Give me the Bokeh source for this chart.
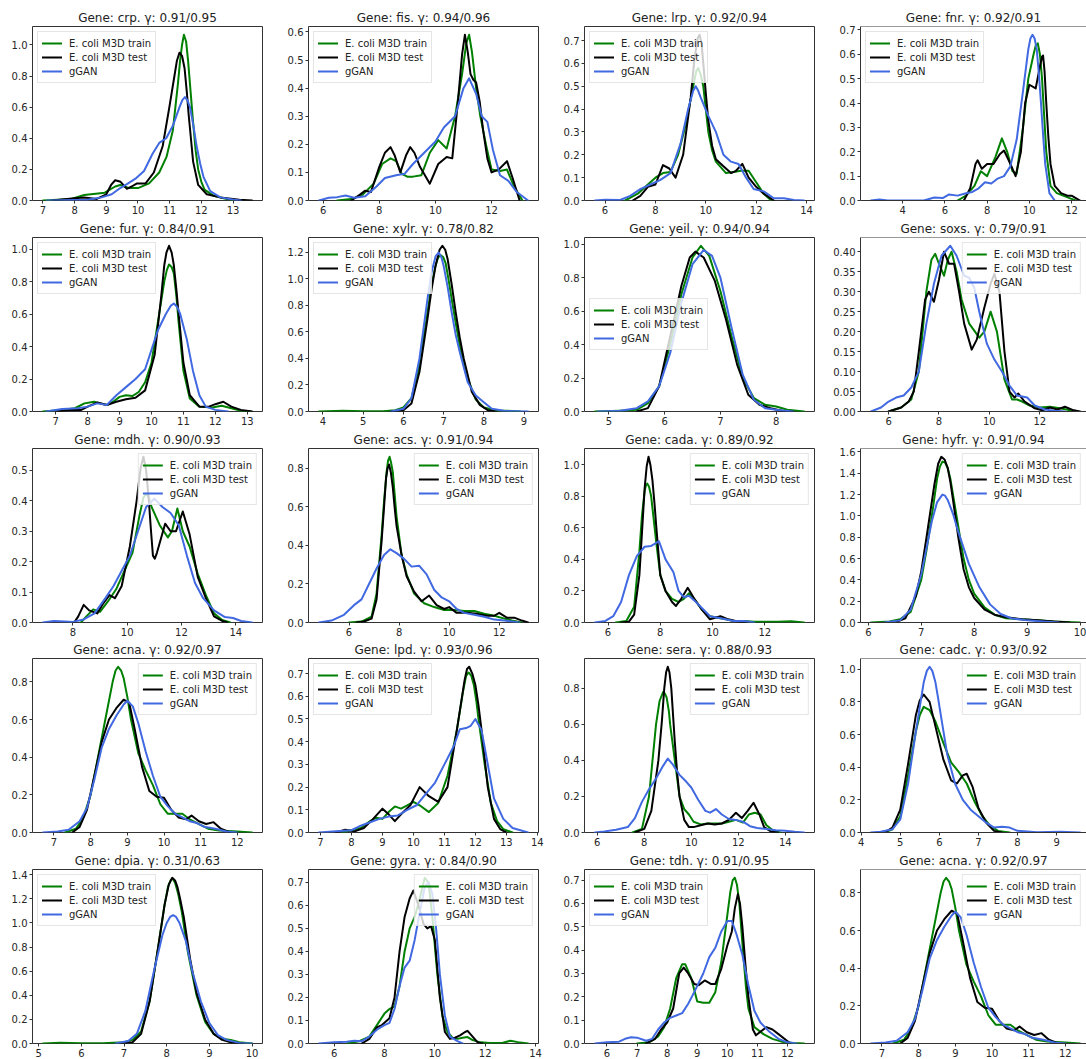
import math
from bokeh.plotting import figure
from bokeh.layouts import column, row
from bokeh.models import Range1d, FixedTicker, PrintfTickFormatter, Span
from bokeh.embed import file_html
from bokeh.resources import INLINE

# ---- series names and colours -------------------------------------------
series_names = ["E. coli M3D train", "E. coli M3D test", "gGAN"]
series_colors = ["green", "black", "royalblue"]

# ---- density curves, (expression, density) pairs ------------------------
crp_train = [(7.0, 0), (7.9, 0.01), (8.3, 0.035), (8.74, 0.045), (8.95, 0.05), (9.28, 0.09), (9.44, 0.10), (9.7, 0.08), (10.0, 0.08), (10.35, 0.11), (10.67, 0.18), (10.9, 0.28), (11.1, 0.45), (11.26, 0.75), (11.33, 0.9), (11.39, 1.0), (11.45, 1.065), (11.52, 1.02), (11.58, 0.9), (11.66, 0.7), (11.74, 0.5), (11.82, 0.32), (11.9, 0.2), (12.0, 0.12), (12.1, 0.07), (12.39, 0.03), (12.7, 0.015), (13.03, 0)]
crp_test = [(7.3, 0), (7.99, 0.015), (8.3, 0.02), (8.7, 0.01), (9.0, 0.04), (9.15, 0.1), (9.28, 0.13), (9.45, 0.12), (9.65, 0.075), (9.8, 0.09), (9.97, 0.11), (10.24, 0.11), (10.5, 0.18), (10.78, 0.35), (10.99, 0.6), (11.15, 0.8), (11.23, 0.9), (11.31, 0.95), (11.39, 0.93), (11.47, 0.85), (11.54, 0.7), (11.6, 0.55), (11.67, 0.4), (11.74, 0.25), (11.9, 0.1), (12.17, 0.04), (12.6, 0.02), (13.2, 0.005), (13.6, 0)]
crp_gan = [(7.13, 0), (8.4, 0.005), (8.85, 0.02), (9.17, 0.04), (9.44, 0.08), (9.65, 0.105), (9.92, 0.14), (10.19, 0.19), (10.46, 0.3), (10.67, 0.37), (10.89, 0.4), (11.1, 0.48), (11.31, 0.6), (11.4, 0.645), (11.48, 0.665), (11.56, 0.645), (11.64, 0.6), (11.75, 0.48), (11.85, 0.35), (11.96, 0.24), (12.07, 0.15), (12.28, 0.06), (12.6, 0.02), (13.03, 0.005), (13.25, 0)]

fis_train = [(6.5, 0), (7.0, 0.005), (7.4, 0.02), (7.8, 0.06), (8.1, 0.13), (8.4, 0.15), (8.6, 0.14), (8.8, 0.095), (9.0, 0.085), (9.2, 0.085), (9.5, 0.09), (9.8, 0.17), (10.1, 0.215), (10.4, 0.185), (10.7, 0.3), (10.95, 0.45), (11.1, 0.56), (11.2, 0.59), (11.3, 0.53), (11.45, 0.4), (11.6, 0.3), (11.8, 0.2), (12.0, 0.11), (12.3, 0.105), (12.55, 0.11), (12.8, 0.05), (13.1, 0)]
fis_test = [(7.0, 0), (7.3, 0.02), (7.5, 0.035), (7.7, 0.03), (8.0, 0.12), (8.2, 0.17), (8.4, 0.19), (8.55, 0.16), (8.75, 0.1), (8.95, 0.16), (9.1, 0.19), (9.25, 0.17), (9.45, 0.12), (9.8, 0.06), (10.1, 0.13), (10.4, 0.155), (10.6, 0.15), (10.8, 0.35), (10.95, 0.52), (11.05, 0.59), (11.15, 0.53), (11.25, 0.45), (11.35, 0.43), (11.45, 0.42), (11.58, 0.35), (11.7, 0.25), (11.85, 0.15), (12.0, 0.1), (12.25, 0.11), (12.55, 0.14), (12.75, 0.08), (13.0, 0)]
fis_gan = [(5.85, 0), (6.2, 0.01), (6.5, 0.012), (6.8, 0.018), (7.1, 0.01), (7.5, 0.015), (7.9, 0.05), (8.2, 0.08), (8.6, 0.09), (8.9, 0.095), (9.2, 0.13), (9.6, 0.17), (10.0, 0.21), (10.3, 0.26), (10.7, 0.3), (11.0, 0.4), (11.2, 0.435), (11.45, 0.38), (11.65, 0.3), (11.85, 0.28), (12.05, 0.18), (12.3, 0.09), (12.6, 0.07), (12.9, 0.03), (13.3, 0)]

lrp_train = [(6.8, 0), (7.3, 0.03), (7.6, 0.06), (8.0, 0.1), (8.3, 0.12), (8.6, 0.125), (8.9, 0.2), (9.2, 0.33), (9.5, 0.5), (9.62, 0.565), (9.7, 0.58), (9.8, 0.55), (9.9, 0.5), (10.0, 0.4), (10.1, 0.3), (10.25, 0.22), (10.4, 0.17), (10.8, 0.12), (11.1, 0.125), (11.4, 0.13), (11.7, 0.13), (12.0, 0.08), (12.3, 0.03), (12.6, 0)]
lrp_test = [(7.1, 0), (7.4, 0.02), (7.7, 0.06), (8.0, 0.07), (8.3, 0.155), (8.55, 0.14), (8.8, 0.1), (9.1, 0.2), (9.4, 0.45), (9.55, 0.62), (9.68, 0.71), (9.75, 0.725), (9.83, 0.69), (9.9, 0.6), (10.0, 0.47), (10.1, 0.35), (10.25, 0.24), (10.4, 0.18), (10.7, 0.15), (11.0, 0.12), (11.2, 0.13), (11.45, 0.16), (11.7, 0.1), (12.0, 0.06), (12.3, 0.03), (12.7, 0)]
lrp_gan = [(5.6, 0), (6.0, 0.003), (6.6, 0.002), (7.0, 0.02), (7.4, 0.05), (7.8, 0.07), (8.2, 0.09), (8.6, 0.12), (9.0, 0.25), (9.3, 0.4), (9.5, 0.48), (9.6, 0.5), (9.7, 0.48), (9.8, 0.45), (10.1, 0.37), (10.4, 0.3), (10.7, 0.2), (11.0, 0.17), (11.3, 0.16), (11.6, 0.1), (11.9, 0.05), (12.3, 0.04), (12.7, 0.01), (13.1, 0.01), (13.5, 0.002), (13.9, 0)]

fnr_train = [(6.6, 0), (7.0, 0.02), (7.4, 0.06), (7.7, 0.12), (8.0, 0.1), (8.4, 0.18), (8.7, 0.255), (8.95, 0.2), (9.2, 0.12), (9.4, 0.11), (9.7, 0.3), (9.95, 0.5), (10.2, 0.6), (10.3, 0.635), (10.4, 0.645), (10.5, 0.6), (10.6, 0.5), (10.7, 0.35), (10.8, 0.2), (11.0, 0.06), (11.3, 0.03), (11.6, 0.02), (11.9, 0.01), (12.2, 0)]
fnr_test = [(6.9, 0), (7.2, 0.05), (7.45, 0.15), (7.55, 0.165), (7.75, 0.13), (8.0, 0.15), (8.3, 0.15), (8.6, 0.19), (8.8, 0.205), (9.05, 0.16), (9.35, 0.1), (9.6, 0.2), (9.8, 0.4), (10.0, 0.475), (10.3, 0.46), (10.5, 0.55), (10.6, 0.59), (10.65, 0.595), (10.72, 0.53), (10.8, 0.4), (10.9, 0.26), (11.0, 0.15), (11.2, 0.06), (11.5, 0.03), (11.8, 0.02), (12.0, 0.02), (12.2, 0.01), (12.4, 0)]
fnr_gan = [(2.5, 0), (2.9, 0.004), (3.3, 0), (5.0, 0), (5.5, 0.012), (5.9, 0.01), (6.2, 0.025), (6.6, 0.02), (7.0, 0.03), (7.3, 0.035), (7.6, 0.05), (7.9, 0.075), (8.2, 0.07), (8.5, 0.09), (8.8, 0.1), (9.1, 0.14), (9.4, 0.25), (9.7, 0.45), (9.95, 0.62), (10.05, 0.665), (10.15, 0.68), (10.25, 0.665), (10.35, 0.62), (10.45, 0.52), (10.55, 0.4), (10.65, 0.27), (10.75, 0.15), (10.95, 0.03), (11.2, 0)]

fur_train = [(6.6, 0), (7.2, 0.01), (7.6, 0.02), (7.9, 0.05), (8.2, 0.06), (8.4, 0.05), (8.6, 0.04), (8.8, 0.06), (9.0, 0.09), (9.2, 0.1), (9.4, 0.095), (9.6, 0.12), (9.8, 0.18), (10.0, 0.3), (10.2, 0.55), (10.4, 0.8), (10.48, 0.87), (10.55, 0.905), (10.63, 0.89), (10.7, 0.85), (10.78, 0.71), (10.85, 0.55), (10.93, 0.39), (11.0, 0.25), (11.2, 0.08), (11.5, 0.03), (11.9, 0.025), (12.2, 0.035), (12.5, 0.02), (12.8, 0.005), (13.1, 0)]
fur_test = [(7.0, 0), (7.5, 0.01), (7.8, 0.01), (8.0, 0.03), (8.3, 0.055), (8.6, 0.04), (8.9, 0.06), (9.2, 0.075), (9.5, 0.085), (9.8, 0.13), (10.1, 0.35), (10.3, 0.7), (10.4, 0.9), (10.47, 0.98), (10.55, 1.02), (10.63, 0.98), (10.7, 0.9), (10.78, 0.75), (10.85, 0.6), (10.93, 0.44), (11.0, 0.3), (11.2, 0.1), (11.5, 0.03), (11.8, 0.03), (12.0, 0.045), (12.25, 0.06), (12.5, 0.03), (12.8, 0.01), (13.15, 0)]
fur_gan = [(6.7, 0), (7.2, 0.015), (7.7, 0.02), (8.0, 0.03), (8.3, 0.05), (8.6, 0.04), (8.9, 0.1), (9.2, 0.15), (9.5, 0.2), (9.8, 0.26), (10.0, 0.38), (10.2, 0.5), (10.45, 0.6), (10.6, 0.65), (10.7, 0.665), (10.8, 0.645), (10.9, 0.6), (11.1, 0.45), (11.3, 0.25), (11.5, 0.1), (11.7, 0.03), (12.0, 0.01), (12.4, 0)]

xylr_train = [(3.9, 0), (4.5, 0.005), (5.0, 0.002), (5.5, 0.002), (5.8, 0.01), (6.0, 0.03), (6.2, 0.1), (6.4, 0.35), (6.6, 0.75), (6.7, 0.95), (6.8, 1.1), (6.86, 1.16), (6.92, 1.18), (6.99, 1.165), (7.05, 1.12), (7.12, 1.0), (7.2, 0.85), (7.3, 0.67), (7.4, 0.5), (7.6, 0.25), (7.8, 0.09), (8.0, 0.03), (8.3, 0.008), (8.6, 0.005), (8.9, 0)]
xylr_test = [(5.7, 0), (6.0, 0.01), (6.2, 0.06), (6.4, 0.3), (6.6, 0.7), (6.7, 0.92), (6.8, 1.1), (6.9, 1.22), (6.97, 1.25), (7.04, 1.22), (7.1, 1.15), (7.2, 0.96), (7.3, 0.75), (7.4, 0.56), (7.5, 0.4), (7.7, 0.15), (7.9, 0.05), (8.1, 0.01), (8.3, 0)]
xylr_gan = [(5.7, 0), (6.0, 0.02), (6.2, 0.1), (6.4, 0.4), (6.6, 0.85), (6.7, 1.05), (6.8, 1.17), (6.88, 1.2), (6.95, 1.16), (7.0, 1.1), (7.1, 0.94), (7.2, 0.75), (7.3, 0.58), (7.4, 0.45), (7.6, 0.22), (7.8, 0.12), (8.0, 0.07), (8.2, 0.02), (8.5, 0.005), (9.1, 0)]

yeil_train = [(4.75, 0), (5.2, 0.005), (5.5, 0.01), (5.7, 0.05), (5.9, 0.15), (6.1, 0.4), (6.3, 0.7), (6.5, 0.92), (6.65, 0.99), (6.8, 0.93), (7.0, 0.72), (7.2, 0.45), (7.4, 0.2), (7.6, 0.08), (7.8, 0.04), (8.0, 0.03), (8.2, 0.01), (8.5, 0)]
yeil_test = [(5.5, 0), (5.7, 0.02), (5.9, 0.15), (6.1, 0.45), (6.3, 0.75), (6.45, 0.92), (6.55, 0.955), (6.7, 0.92), (6.9, 0.78), (7.1, 0.55), (7.3, 0.28), (7.5, 0.1), (7.7, 0.04), (7.9, 0.02), (8.1, 0.005), (8.3, 0)]
yeil_gan = [(4.8, 0), (5.2, 0.005), (5.5, 0.02), (5.7, 0.06), (5.9, 0.15), (6.1, 0.35), (6.3, 0.65), (6.5, 0.88), (6.7, 0.965), (6.85, 0.93), (7.0, 0.8), (7.2, 0.5), (7.4, 0.22), (7.6, 0.07), (7.8, 0.02), (8.0, 0.01), (8.3, 0)]

soxs_train = [(6.0, 0), (6.5, 0.01), (6.9, 0.03), (7.2, 0.1), (7.5, 0.3), (7.7, 0.38), (7.85, 0.395), (8.0, 0.37), (8.2, 0.34), (8.35, 0.38), (8.5, 0.4), (8.7, 0.35), (8.9, 0.28), (9.2, 0.22), (9.6, 0.185), (9.8, 0.2), (10.05, 0.25), (10.3, 0.2), (10.6, 0.08), (10.9, 0.03), (11.1, 0.03), (11.3, 0.025), (11.6, 0.015), (12.0, 0.01), (12.4, 0.012), (12.8, 0.008), (13.2, 0.003), (13.5, 0)]
soxs_test = [(6.0, 0), (6.5, 0.01), (6.8, 0.025), (7.0, 0.05), (7.2, 0.15), (7.45, 0.28), (7.6, 0.3), (7.8, 0.275), (8.0, 0.33), (8.2, 0.4), (8.4, 0.37), (8.6, 0.37), (8.8, 0.3), (9.0, 0.22), (9.3, 0.155), (9.5, 0.18), (9.8, 0.26), (10.05, 0.32), (10.2, 0.345), (10.4, 0.3), (10.6, 0.15), (10.8, 0.05), (11.0, 0.035), (11.15, 0.045), (11.4, 0.025), (11.8, 0.008), (12.1, 0.003), (12.4, 0.01), (12.7, 0.005), (13.0, 0.012), (13.3, 0.004), (13.6, 0)]
soxs_gan = [(5.3, 0), (5.7, 0.01), (6.0, 0.025), (6.3, 0.035), (6.6, 0.04), (6.9, 0.06), (7.2, 0.1), (7.5, 0.22), (7.8, 0.32), (8.1, 0.39), (8.45, 0.415), (8.7, 0.39), (9.0, 0.34), (9.2, 0.335), (9.4, 0.31), (9.6, 0.25), (9.9, 0.17), (10.2, 0.13), (10.5, 0.1), (10.8, 0.065), (11.1, 0.04), (11.5, 0.035), (11.8, 0.015), (12.2, 0.005), (12.6, 0.002), (13.0, 0)]

mdh_train = [(8.3, 0), (8.5, 0.02), (8.75, 0.043), (9.0, 0.035), (9.3, 0.07), (9.6, 0.11), (9.9, 0.17), (10.2, 0.23), (10.45, 0.35), (10.6, 0.41), (10.7, 0.425), (10.8, 0.41), (10.9, 0.38), (11.2, 0.32), (11.5, 0.28), (11.65, 0.3), (11.85, 0.375), (12.05, 0.3), (12.3, 0.25), (12.6, 0.16), (12.9, 0.09), (13.2, 0.03), (13.5, 0.008), (13.8, 0)]
mdh_test = [(8.05, 0), (8.2, 0.02), (8.4, 0.058), (8.6, 0.04), (8.9, 0.03), (9.1, 0.06), (9.35, 0.09), (9.55, 0.08), (9.8, 0.12), (10.1, 0.25), (10.35, 0.4), (10.5, 0.51), (10.6, 0.545), (10.7, 0.5), (10.8, 0.4), (10.88, 0.3), (10.95, 0.22), (11.02, 0.21), (11.1, 0.23), (11.4, 0.325), (11.6, 0.3), (11.8, 0.3), (12.05, 0.365), (12.3, 0.29), (12.6, 0.15), (12.9, 0.08), (13.2, 0.02), (13.5, 0.005), (13.7, 0)]
mdh_gan = [(6.9, 0), (7.3, 0.005), (7.7, 0.003), (8.0, 0.002), (8.4, 0.01), (8.8, 0.03), (9.2, 0.08), (9.5, 0.12), (9.8, 0.17), (10.1, 0.22), (10.4, 0.3), (10.7, 0.38), (11.0, 0.408), (11.3, 0.38), (11.6, 0.36), (11.9, 0.32), (12.2, 0.22), (12.5, 0.13), (12.8, 0.08), (13.2, 0.04), (13.6, 0.018), (13.9, 0.015), (14.2, 0.005), (14.6, 0)]

acs_train = [(6.0, 0), (6.5, 0.005), (6.9, 0.03), (7.1, 0.15), (7.3, 0.45), (7.4, 0.63), (7.5, 0.78), (7.56, 0.84), (7.62, 0.86), (7.68, 0.83), (7.75, 0.78), (7.82, 0.67), (7.9, 0.55), (8.1, 0.35), (8.3, 0.25), (8.6, 0.15), (9.0, 0.1), (9.4, 0.08), (9.8, 0.065), (10.2, 0.065), (10.6, 0.06), (11.0, 0.06), (11.4, 0.045), (11.8, 0.035), (12.2, 0.02), (12.5, 0.01), (12.9, 0)]
acs_test = [(6.3, 0), (6.6, 0.005), (6.9, 0.02), (7.1, 0.12), (7.3, 0.42), (7.4, 0.6), (7.48, 0.75), (7.54, 0.8), (7.6, 0.82), (7.67, 0.78), (7.75, 0.7), (7.82, 0.6), (7.9, 0.5), (8.1, 0.35), (8.3, 0.24), (8.6, 0.16), (8.9, 0.11), (9.2, 0.14), (9.5, 0.09), (9.8, 0.07), (10.0, 0.08), (10.3, 0.05), (10.7, 0.05), (11.1, 0.045), (11.5, 0.035), (11.8, 0.035), (12.0, 0.05), (12.3, 0.025), (12.6, 0.025), (12.9, 0.01), (13.15, 0)]
acs_gan = [(4.8, 0), (5.3, 0.01), (5.8, 0.04), (6.2, 0.09), (6.5, 0.12), (6.8, 0.2), (7.1, 0.28), (7.4, 0.35), (7.65, 0.38), (7.9, 0.36), (8.2, 0.33), (8.5, 0.29), (8.8, 0.295), (9.1, 0.25), (9.4, 0.17), (9.7, 0.13), (10.0, 0.11), (10.3, 0.07), (10.6, 0.05), (11.0, 0.04), (11.4, 0.03), (11.8, 0.015), (12.2, 0.01), (12.8, 0)]

cada_train = [(6.3, 0), (6.7, 0.01), (7.0, 0.1), (7.2, 0.45), (7.3, 0.68), (7.4, 0.83), (7.45, 0.87), (7.5, 0.88), (7.57, 0.86), (7.65, 0.8), (7.75, 0.65), (7.85, 0.5), (8.0, 0.3), (8.2, 0.2), (8.45, 0.15), (8.7, 0.13), (8.9, 0.15), (9.1, 0.185), (9.3, 0.15), (9.6, 0.08), (9.9, 0.04), (10.2, 0.03), (10.5, 0.02), (10.8, 0.01), (11.2, 0.01), (11.6, 0.005), (12.0, 0.005), (12.5, 0.005), (13.0, 0.008), (13.5, 0)]
cada_test = [(6.5, 0), (6.8, 0.005), (7.0, 0.05), (7.2, 0.3), (7.3, 0.57), (7.4, 0.85), (7.48, 0.99), (7.55, 1.05), (7.62, 1.0), (7.7, 0.9), (7.78, 0.75), (7.85, 0.6), (8.0, 0.3), (8.2, 0.2), (8.45, 0.13), (8.6, 0.105), (8.8, 0.15), (9.05, 0.22), (9.3, 0.15), (9.6, 0.08), (9.9, 0.02), (10.1, 0.03), (10.3, 0.04), (10.6, 0.02), (11.0, 0.005), (11.3, 0)]
cada_gan = [(5.5, 0), (5.9, 0.01), (6.2, 0.04), (6.5, 0.13), (6.8, 0.3), (7.1, 0.42), (7.4, 0.48), (7.65, 0.485), (7.8, 0.5), (7.95, 0.515), (8.2, 0.4), (8.5, 0.32), (8.7, 0.2), (8.9, 0.16), (9.1, 0.17), (9.3, 0.14), (9.6, 0.09), (9.9, 0.04), (10.2, 0.03), (10.5, 0.02), (10.8, 0.01), (11.2, 0.01), (11.6, 0)]

hyfr_train = [(6.05, 0), (6.4, 0.01), (6.6, 0.03), (6.8, 0.1), (7.0, 0.4), (7.1, 0.68), (7.2, 1.0), (7.3, 1.35), (7.35, 1.46), (7.4, 1.51), (7.45, 1.5), (7.5, 1.45), (7.55, 1.35), (7.6, 1.2), (7.7, 0.9), (7.8, 0.6), (7.9, 0.4), (8.0, 0.27), (8.2, 0.14), (8.4, 0.07), (8.6, 0.04), (8.9, 0.03), (9.2, 0.02), (9.5, 0.01), (10.0, 0)]
hyfr_test = [(6.5, 0), (6.7, 0.04), (6.9, 0.25), (7.0, 0.48), (7.1, 0.8), (7.25, 1.3), (7.32, 1.49), (7.38, 1.555), (7.44, 1.53), (7.5, 1.45), (7.55, 1.32), (7.6, 1.15), (7.7, 0.8), (7.8, 0.5), (7.9, 0.33), (8.0, 0.23), (8.2, 0.12), (8.4, 0.07), (8.6, 0.05), (8.9, 0.03), (9.2, 0.02), (9.5, 0.01), (9.8, 0)]
hyfr_gan = [(6.3, 0), (6.6, 0.02), (6.8, 0.12), (7.0, 0.45), (7.1, 0.7), (7.2, 0.95), (7.3, 1.13), (7.4, 1.2), (7.45, 1.19), (7.5, 1.15), (7.6, 1.02), (7.7, 0.85), (7.9, 0.55), (8.1, 0.33), (8.3, 0.17), (8.5, 0.08), (8.7, 0.04), (9.0, 0.02), (9.3, 0.01), (9.6, 0)]

acna_train = [(7.3, 0), (7.6, 0.02), (7.8, 0.08), (8.0, 0.2), (8.2, 0.4), (8.4, 0.6), (8.6, 0.8), (8.68, 0.86), (8.75, 0.88), (8.83, 0.86), (8.9, 0.82), (9.0, 0.72), (9.1, 0.6), (9.3, 0.42), (9.5, 0.33), (9.7, 0.25), (9.9, 0.15), (10.1, 0.1), (10.3, 0.1), (10.5, 0.1), (10.7, 0.07), (10.9, 0.05), (11.2, 0.02), (11.5, 0.01), (12.0, 0.005), (12.4, 0)]
acna_test = [(7.5, 0), (7.7, 0.03), (7.9, 0.12), (8.1, 0.3), (8.3, 0.48), (8.5, 0.6), (8.7, 0.66), (8.9, 0.705), (9.05, 0.69), (9.2, 0.55), (9.4, 0.35), (9.6, 0.22), (9.8, 0.19), (10.0, 0.185), (10.2, 0.12), (10.4, 0.08), (10.6, 0.07), (10.75, 0.09), (10.95, 0.06), (11.15, 0.045), (11.35, 0.055), (11.55, 0.02), (11.8, 0)]
acna_gan = [(6.7, 0), (7.1, 0.005), (7.4, 0.015), (7.7, 0.06), (7.9, 0.13), (8.1, 0.28), (8.3, 0.45), (8.5, 0.55), (8.7, 0.62), (8.9, 0.68), (9.0, 0.7), (9.15, 0.67), (9.3, 0.58), (9.5, 0.43), (9.7, 0.3), (9.9, 0.19), (10.1, 0.14), (10.3, 0.1), (10.5, 0.08), (10.7, 0.06), (10.9, 0.05), (11.1, 0.03), (11.4, 0.02), (11.7, 0.005), (12.0, 0)]

lpd_train = [(7.7, 0), (8.0, 0.01), (8.3, 0.02), (8.6, 0.05), (8.8, 0.065), (9.0, 0.06), (9.2, 0.09), (9.4, 0.115), (9.6, 0.105), (9.8, 0.12), (10.0, 0.135), (10.2, 0.12), (10.5, 0.09), (10.8, 0.13), (11.1, 0.25), (11.4, 0.45), (11.6, 0.62), (11.7, 0.69), (11.78, 0.705), (11.87, 0.69), (11.95, 0.65), (12.03, 0.58), (12.1, 0.5), (12.3, 0.3), (12.5, 0.13), (12.7, 0.05), (12.9, 0.015), (13.2, 0)]
lpd_test = [(7.5, 0), (7.8, 0.012), (8.1, 0.005), (8.4, 0.02), (8.7, 0.06), (9.0, 0.105), (9.2, 0.08), (9.4, 0.05), (9.6, 0.08), (9.9, 0.12), (10.2, 0.2), (10.5, 0.16), (10.8, 0.135), (11.1, 0.2), (11.4, 0.45), (11.65, 0.67), (11.73, 0.72), (11.8, 0.73), (11.9, 0.7), (12.0, 0.65), (12.1, 0.56), (12.2, 0.45), (12.4, 0.2), (12.6, 0.06), (12.8, 0.015), (13.0, 0)]
lpd_gan = [(6.95, 0), (7.5, 0.005), (8.0, 0.01), (8.3, 0.03), (8.6, 0.045), (8.9, 0.06), (9.2, 0.07), (9.5, 0.075), (9.8, 0.1), (10.1, 0.12), (10.4, 0.17), (10.7, 0.22), (11.0, 0.3), (11.3, 0.38), (11.5, 0.455), (11.7, 0.46), (11.85, 0.47), (12.0, 0.5), (12.2, 0.45), (12.4, 0.3), (12.6, 0.15), (12.9, 0.06), (13.2, 0.02), (13.7, 0)]

sera_train = [(7.5, 0), (7.9, 0.02), (8.2, 0.2), (8.5, 0.6), (8.65, 0.73), (8.8, 0.78), (8.88, 0.77), (8.95, 0.75), (9.05, 0.67), (9.1, 0.6), (9.3, 0.4), (9.5, 0.2), (9.7, 0.13), (9.9, 0.1), (10.1, 0.06), (10.4, 0.045), (10.7, 0.05), (11.0, 0.05), (11.3, 0.05), (11.6, 0.06), (11.9, 0.07), (12.2, 0.055), (12.45, 0.1), (12.7, 0.11), (12.95, 0.1), (13.2, 0.04), (13.5, 0.01), (13.8, 0)]
sera_test = [(7.6, 0), (8.0, 0.02), (8.3, 0.12), (8.6, 0.4), (8.75, 0.62), (8.85, 0.8), (8.93, 0.89), (9.0, 0.92), (9.07, 0.89), (9.15, 0.8), (9.22, 0.66), (9.3, 0.5), (9.4, 0.33), (9.5, 0.2), (9.7, 0.07), (9.9, 0.03), (10.1, 0.03), (10.4, 0.04), (10.7, 0.05), (11.0, 0.045), (11.3, 0.05), (11.6, 0.07), (11.9, 0.11), (12.15, 0.08), (12.4, 0.12), (12.65, 0.165), (12.9, 0.1), (13.1, 0.03), (13.4, 0.005), (13.7, 0)]
sera_gan = [(5.9, 0), (6.3, 0.005), (6.8, 0.015), (7.3, 0.03), (7.6, 0.08), (7.9, 0.17), (8.2, 0.24), (8.5, 0.3), (8.8, 0.37), (9.0, 0.41), (9.2, 0.38), (9.5, 0.32), (9.8, 0.28), (10.0, 0.25), (10.3, 0.18), (10.6, 0.12), (10.8, 0.11), (11.05, 0.13), (11.3, 0.1), (11.6, 0.075), (11.9, 0.07), (12.2, 0.06), (12.5, 0.035), (12.8, 0.025), (13.2, 0.02), (13.6, 0.012), (14.0, 0.01), (14.4, 0.004), (14.8, 0)]

cadc_train = [(4.6, 0), (4.8, 0.02), (5.0, 0.1), (5.2, 0.35), (5.4, 0.62), (5.5, 0.72), (5.6, 0.77), (5.75, 0.75), (5.9, 0.68), (6.1, 0.55), (6.3, 0.43), (6.5, 0.37), (6.7, 0.3), (6.9, 0.19), (7.1, 0.1), (7.3, 0.04), (7.5, 0.01), (7.8, 0)]
cadc_test = [(4.6, 0), (4.8, 0.03), (5.0, 0.14), (5.2, 0.42), (5.4, 0.72), (5.5, 0.81), (5.6, 0.845), (5.75, 0.8), (5.9, 0.65), (6.1, 0.45), (6.3, 0.32), (6.45, 0.3), (6.6, 0.35), (6.7, 0.36), (6.85, 0.28), (7.0, 0.15), (7.2, 0.06), (7.4, 0.01), (7.6, 0)]
cadc_gan = [(4.25, 0), (4.5, 0.005), (4.8, 0.02), (5.0, 0.08), (5.2, 0.3), (5.4, 0.62), (5.6, 0.92), (5.68, 0.99), (5.75, 1.015), (5.82, 0.99), (5.9, 0.92), (5.97, 0.82), (6.05, 0.7), (6.2, 0.48), (6.4, 0.3), (6.6, 0.2), (6.8, 0.14), (7.0, 0.1), (7.2, 0.06), (7.4, 0.03), (7.6, 0.035), (7.8, 0.03), (8.0, 0.01), (8.5, 0.002), (9.1, 0.005), (9.6, 0)]

dpia_train = [(5.1, 0), (5.5, 0.006), (6.0, 0.002), (6.5, 0.002), (7.0, 0.01), (7.2, 0.03), (7.4, 0.1), (7.6, 0.35), (7.8, 0.8), (7.95, 1.15), (8.03, 1.3), (8.1, 1.36), (8.15, 1.365), (8.2, 1.33), (8.27, 1.24), (8.35, 1.1), (8.5, 0.75), (8.7, 0.4), (8.9, 0.18), (9.1, 0.08), (9.3, 0.04), (9.5, 0.03), (9.7, 0.01), (10.0, 0)]
dpia_test = [(6.9, 0), (7.2, 0.01), (7.4, 0.08), (7.6, 0.35), (7.8, 0.8), (7.95, 1.15), (8.05, 1.32), (8.13, 1.375), (8.2, 1.35), (8.25, 1.3), (8.32, 1.19), (8.4, 1.05), (8.55, 0.7), (8.7, 0.42), (8.9, 0.2), (9.1, 0.08), (9.3, 0.03), (9.5, 0.01), (9.8, 0)]
dpia_gan = [(6.8, 0), (7.1, 0.02), (7.3, 0.08), (7.5, 0.27), (7.7, 0.6), (7.9, 0.9), (8.0, 1.0), (8.08, 1.05), (8.15, 1.065), (8.22, 1.05), (8.3, 1.0), (8.45, 0.85), (8.6, 0.6), (8.8, 0.35), (9.0, 0.17), (9.2, 0.07), (9.4, 0.03), (9.7, 0.005), (10.0, 0)]

gyra_train = [(6.5, 0), (7.0, 0.01), (7.4, 0.03), (7.7, 0.08), (8.0, 0.13), (8.2, 0.15), (8.4, 0.16), (8.6, 0.25), (8.8, 0.4), (9.0, 0.5), (9.2, 0.55), (9.4, 0.63), (9.6, 0.72), (9.75, 0.7), (9.9, 0.55), (10.1, 0.3), (10.3, 0.12), (10.5, 0.05), (10.7, 0.025), (10.9, 0.02), (11.1, 0.025), (11.3, 0.028), (11.5, 0.015), (11.8, 0.005), (12.2, 0.002), (12.7, 0.003), (13.0, 0.012), (13.3, 0.006), (13.7, 0)]
gyra_test = [(7.1, 0), (7.4, 0.02), (7.7, 0.07), (7.9, 0.08), (8.2, 0.11), (8.4, 0.2), (8.6, 0.4), (8.8, 0.55), (9.0, 0.63), (9.15, 0.665), (9.35, 0.6), (9.55, 0.52), (9.7, 0.5), (9.85, 0.51), (10.0, 0.45), (10.2, 0.2), (10.4, 0.05), (10.6, 0.02), (10.8, 0.025), (11.0, 0.035), (11.2, 0.05), (11.3, 0.055), (11.5, 0.03), (11.7, 0.005), (11.9, 0)]
gyra_gan = [(5.4, 0), (6.0, 0.005), (6.5, 0.008), (6.8, 0.012), (7.1, 0.01), (7.4, 0.03), (7.7, 0.06), (8.0, 0.08), (8.2, 0.09), (8.4, 0.15), (8.6, 0.25), (8.8, 0.33), (9.0, 0.36), (9.2, 0.45), (9.4, 0.57), (9.6, 0.68), (9.75, 0.7), (9.9, 0.65), (10.05, 0.5), (10.2, 0.3), (10.4, 0.12), (10.6, 0.03), (10.9, 0.01), (11.1, 0)]

tdh_train = [(7.0, 0), (7.4, 0.005), (7.7, 0.03), (7.9, 0.07), (8.1, 0.15), (8.3, 0.28), (8.5, 0.34), (8.6, 0.34), (8.8, 0.28), (9.0, 0.18), (9.2, 0.175), (9.4, 0.175), (9.6, 0.22), (9.8, 0.35), (10.0, 0.55), (10.1, 0.65), (10.18, 0.7), (10.25, 0.71), (10.32, 0.68), (10.4, 0.6), (10.47, 0.48), (10.55, 0.35), (10.62, 0.24), (10.7, 0.15), (10.9, 0.07), (11.2, 0.04), (11.5, 0.02), (11.8, 0.008), (12.2, 0.002), (12.55, 0)]
tdh_test = [(7.3, 0), (7.6, 0.02), (7.8, 0.06), (8.0, 0.09), (8.2, 0.15), (8.4, 0.3), (8.55, 0.325), (8.7, 0.3), (8.9, 0.255), (9.05, 0.25), (9.25, 0.27), (9.45, 0.255), (9.6, 0.255), (9.8, 0.32), (10.0, 0.42), (10.15, 0.48), (10.25, 0.58), (10.35, 0.64), (10.42, 0.6), (10.5, 0.5), (10.6, 0.34), (10.7, 0.2), (10.85, 0.06), (10.95, 0.035), (11.1, 0.05), (11.3, 0.07), (11.5, 0.06), (11.7, 0.04), (11.95, 0.015), (12.1, 0)]
tdh_gan = [(5.6, 0), (6.0, 0.005), (6.4, 0.008), (6.6, 0.02), (6.8, 0.027), (7.0, 0.025), (7.3, 0.012), (7.5, 0.02), (7.7, 0.06), (7.9, 0.09), (8.1, 0.11), (8.3, 0.12), (8.5, 0.13), (8.7, 0.17), (8.9, 0.22), (9.2, 0.3), (9.4, 0.37), (9.6, 0.41), (9.8, 0.48), (10.0, 0.525), (10.15, 0.525), (10.3, 0.47), (10.5, 0.38), (10.7, 0.25), (10.9, 0.14), (11.1, 0.09), (11.4, 0.05), (11.7, 0.02), (12.0, 0.005), (12.3, 0)]

# ---- panel descriptions ---------------------------------------------------
genes = ["crp", "fis", "lrp", "fnr", "fur", "xylr", "yeil", "soxs", "mdh", "acs",
         "cada", "hyfr", "acna", "lpd", "sera", "cadc", "dpia", "gyra", "tdh", "acna"]
gammas = ["0.91/0.95", "0.94/0.96", "0.92/0.94", "0.92/0.91", "0.84/0.91", "0.78/0.82",
          "0.94/0.94", "0.79/0.91", "0.90/0.93", "0.91/0.94", "0.89/0.92", "0.91/0.94",
          "0.92/0.97", "0.93/0.96", "0.88/0.93", "0.93/0.92", "0.31/0.63", "0.84/0.90",
          "0.91/0.95", "0.92/0.97"]
curves = [
    (crp_train, crp_test, crp_gan), (fis_train, fis_test, fis_gan),
    (lrp_train, lrp_test, lrp_gan), (fnr_train, fnr_test, fnr_gan),
    (fur_train, fur_test, fur_gan), (xylr_train, xylr_test, xylr_gan),
    (yeil_train, yeil_test, yeil_gan), (soxs_train, soxs_test, soxs_gan),
    (mdh_train, mdh_test, mdh_gan), (acs_train, acs_test, acs_gan),
    (cada_train, cada_test, cada_gan), (hyfr_train, hyfr_test, hyfr_gan),
    (acna_train, acna_test, acna_gan), (lpd_train, lpd_test, lpd_gan),
    (sera_train, sera_test, sera_gan), (cadc_train, cadc_test, cadc_gan),
    (dpia_train, dpia_test, dpia_gan), (gyra_train, gyra_test, gyra_gan),
    (tdh_train, tdh_test, tdh_gan), (acna_train, acna_test, acna_gan),
]
x_tick_step = [1, 2, 2, 2, 1, 1, 1, 2, 2, 2, 2, 1, 1, 1, 2, 1, 1, 2, 1, 1]
y_tick_step = [0.2, 0.1, 0.1, 0.1, 0.2, 0.2, 0.2, 0.05, 0.1, 0.2,
               0.2, 0.2, 0.2, 0.1, 0.2, 0.2, 0.2, 0.1, 0.1, 0.2]
y_tick_format = ["%.1f"] * 7 + ["%.2f"] + ["%.1f"] * 12
legend_loc = ["top_left", "top_left", "top_left", "top_left",
              "top_left", "top_left", "center_left", "top_right",
              "top_right", "top_right", "top_right", "top_right",
              "top_right", "top_left", "top_right", "top_right",
              "top_left", "top_right", "top_left", "top_right"]

# ---- layout constants -----------------------------------------------------
FONT = "DejaVu Sans"
FRAME_W, FRAME_H = 230, 174
LAST_W = 226          # the right-most column runs to the page edge
BORDER_TOP = [26, 18, 19, 19, 19]
BORDER_BOTTOM = [18, 18, 17, 18, 17]


def ticks_between(lo, hi, step):
    k = math.ceil(lo / step - 1e-9)
    out = []
    while k * step <= hi + 1e-9:
        out.append(round(k * step, 6))
        k += 1
    return out


def make_panel(i):
    r, c = divmod(i, 4)
    last = c == 3
    trio = curves[i]
    xs = [x for cur in trio for x, _ in cur]
    ys = [y for cur in trio for _, y in cur]
    lo, hi = min(xs), max(xs)
    pad = 0.05 * (hi - lo)
    x0, x1 = lo - pad, hi + pad
    fw = FRAME_W
    if last:
        fw = LAST_W
        x1 = x0 + (x1 - x0) * LAST_W / FRAME_W
    ymax = 1.05 * max(ys)

    p = figure(frame_width=fw, frame_height=FRAME_H,
               x_range=Range1d(x0, x1), y_range=Range1d(0, ymax),
               output_backend="svg", toolbar_location=None,
               min_border_left=32, min_border_right=0 if last else 14,
               min_border_top=BORDER_TOP[r], min_border_bottom=BORDER_BOTTOM[r],
               title=f"Gene: {genes[i]}. \u03b3: {gammas[i]}")
    p.background_fill_color = "white"
    p.border_fill_color = "white"
    p.grid.visible = False
    p.title.align = "center"
    p.title.text_font = FONT
    p.title.text_font_size = "12px"
    p.title.text_font_style = "normal"
    p.title.text_color = "#222222"
    p.title.standoff = 3

    for ax in (p.xaxis[0], p.yaxis[0]):
        ax.axis_line_color = "#333333" if last else None
        ax.major_tick_in = 0
        ax.major_tick_out = 3
        ax.major_tick_line_color = "#333333"
        ax.minor_tick_line_color = None
        ax.major_label_text_font = FONT
        ax.major_label_text_font_size = "10px"
        ax.major_label_text_color = "#262626"
        ax.major_label_standoff = 2
    p.xaxis.ticker = FixedTicker(ticks=ticks_between(x0, x1, x_tick_step[i]))
    p.yaxis.ticker = FixedTicker(ticks=ticks_between(0, ymax, y_tick_step[i]))
    p.xaxis.formatter = PrintfTickFormatter(format="%d")
    p.yaxis.formatter = PrintfTickFormatter(format=y_tick_format[i])

    if last:
        p.outline_line_color = None
        p.add_layout(Span(location=ymax, dimension="width",
                          line_color="#333333", line_width=1))
    else:
        p.outline_line_color = "#333333"
        p.outline_line_width = 1

    for cur, name, color in zip(trio, series_names, series_colors):
        p.line([x for x, _ in cur], [y for _, y in cur], line_color=color,
               line_width=2, line_join="round", line_cap="round",
               legend_label=name)

    lg = p.legend[0]
    lg.location = legend_loc[i]
    lg.label_text_font = FONT
    lg.label_text_font_size = "10px"
    lg.label_text_color = "#222222"
    lg.glyph_width = 20
    lg.glyph_height = 14
    lg.label_height = 14
    lg.label_standoff = 7
    lg.spacing = 0
    lg.padding = 4
    lg.margin = 5
    lg.border_line_color = "#cccccc"
    lg.border_line_width = 1
    lg.background_fill_alpha = 0.8
    return p


rows = []
for r in range(5):
    rows.append(row(*[make_panel(r * 4 + c) for c in range(4)], spacing=0))
layout = column(*rows, spacing=0)

open("out.html", "w").write(file_html(layout, INLINE))
